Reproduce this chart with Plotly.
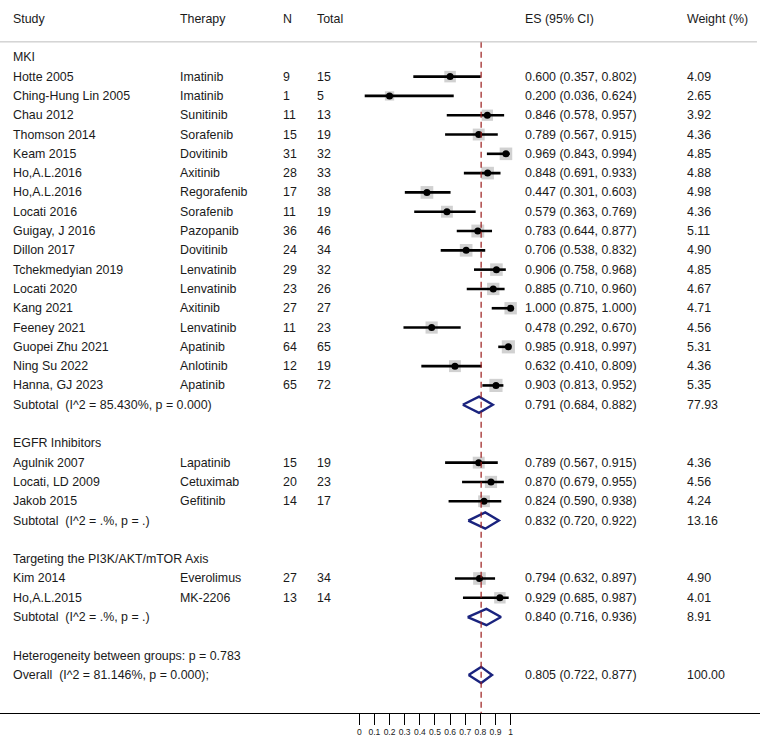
import plotly.graph_objects as go

# study-level data
studies = ["Hotte 2005", "Ching-Hung Lin 2005", "Chau 2012", "Thomson 2014", "Keam 2015",
           "Ho,A.L.2016", "Ho,A.L.2016", "Locati 2016", "Guigay, J 2016", "Dillon 2017",
           "Tchekmedyian 2019", "Locati 2020", "Kang 2021", "Feeney 2021", "Guopei Zhu 2021",
           "Ning Su 2022", "Hanna, GJ 2023",
           "Agulnik 2007", "Locati, LD 2009", "Jakob 2015",
           "Kim 2014", "Ho,A.L.2015"]
therapy = ["Imatinib", "Imatinib", "Sunitinib", "Sorafenib", "Dovitinib",
           "Axitinib", "Regorafenib", "Sorafenib", "Pazopanib", "Dovitinib",
           "Lenvatinib", "Lenvatinib", "Axitinib", "Lenvatinib", "Apatinib",
           "Anlotinib", "Apatinib",
           "Lapatinib", "Cetuximab", "Gefitinib",
           "Everolimus", "MK-2206"]
n_events = [9, 1, 11, 15, 31, 28, 17, 11, 36, 24, 29, 23, 27, 11, 64, 12, 65, 15, 20, 14, 27, 13]
n_total = [15, 5, 13, 19, 32, 33, 38, 19, 46, 34, 32, 26, 27, 23, 65, 19, 72, 19, 23, 17, 34, 14]
es = [0.600, 0.200, 0.846, 0.789, 0.969, 0.848, 0.447, 0.579, 0.783, 0.706, 0.906, 0.885,
      1.000, 0.478, 0.985, 0.632, 0.903, 0.789, 0.870, 0.824, 0.794, 0.929]
ci_low = [0.357, 0.036, 0.578, 0.567, 0.843, 0.691, 0.301, 0.363, 0.644, 0.538, 0.758, 0.710,
          0.875, 0.292, 0.918, 0.410, 0.813, 0.567, 0.679, 0.590, 0.632, 0.685]
ci_high = [0.802, 0.624, 0.957, 0.915, 0.994, 0.933, 0.603, 0.769, 0.877, 0.832, 0.968, 0.960,
           1.000, 0.670, 0.997, 0.809, 0.952, 0.915, 0.955, 0.938, 0.897, 0.987]
weight = [4.09, 2.65, 3.92, 4.36, 4.85, 4.88, 4.98, 4.36, 5.11, 4.90, 4.85, 4.67, 4.71, 4.56,
          5.31, 4.36, 5.35, 4.36, 4.56, 4.24, 4.90, 4.01]

# subgroups
groups = ["MKI", "EGFR Inhibitors", "Targeting the PI3K/AKT/mTOR Axis"]
group_sizes = [17, 3, 2]
sub_es = [0.791, 0.832, 0.840]
sub_low = [0.684, 0.720, 0.716]
sub_high = [0.882, 0.922, 0.936]
sub_weight = [77.93, 13.16, 8.91]
sub_i2 = ["85.430%", ".%", ".%"]
sub_p = ["0.000", ".", "."]

# overall
het_p = "0.783"
overall_es, overall_low, overall_high = 0.805, 0.722, 0.877
overall_i2, overall_p = "81.146%", "0.000"

tick_vals = [0, 0.1, 0.2, 0.3, 0.4, 0.5, 0.6, 0.7, 0.8, 0.9, 1]
tick_text = ["0", "0.1", "0.2", "0.3", "0.4", "0.5", "0.6", "0.7", "0.8", "0.9", "1"]

FONT = "Liberation Sans, Arial, sans-serif"
TXT = "#1a1a1a"
col_x = {"study": 0.0151, "therapy": 0.234, "n": 0.370, "total": 0.414, "es": 0.688, "w": 0.901}

annotations = []


def add_text(x, y, s):
    annotations.append(dict(x=x, y=y, xref="paper", yref="y", text=s, showarrow=False,
                            xanchor="left", yanchor="middle", font=dict(size=12.4, color=TXT, family=FONT)))


# header
for key, s in [("study", "Study"), ("therapy", "Therapy"), ("n", "N"), ("total", "Total"),
               ("es", "ES (95% CI)"), ("w", "Weight (%)")]:
    add_text(col_x[key], -2, s)

# lay out rows
study_rows = []
sub_rows = []
row = 0
k = 0
for g, size in enumerate(group_sizes):
    add_text(col_x["study"], row, groups[g])
    row += 1
    for _ in range(size):
        study_rows.append(row)
        add_text(col_x["study"], row, studies[k])
        add_text(col_x["therapy"], row, therapy[k])
        add_text(col_x["n"], row, str(n_events[k]))
        add_text(col_x["total"], row, str(n_total[k]))
        add_text(col_x["es"], row, f"{es[k]:.3f} ({ci_low[k]:.3f}, {ci_high[k]:.3f})")
        add_text(col_x["w"], row, f"{weight[k]:.2f}")
        row += 1
        k += 1
    sub_rows.append(row)
    add_text(col_x["study"], row, f"Subtotal\u00a0 (I^2 = {sub_i2[g]}, p = {sub_p[g]})")
    add_text(col_x["es"], row, f"{sub_es[g]:.3f} ({sub_low[g]:.3f}, {sub_high[g]:.3f})")
    add_text(col_x["w"], row, f"{sub_weight[g]:.2f}")
    row += 2

add_text(col_x["study"], row, f"Heterogeneity between groups: p = {het_p}")
row += 1
overall_row = row
add_text(col_x["study"], row, f"Overall\u00a0 (I^2 = {overall_i2}, p = {overall_p});")
add_text(col_x["es"], row, f"{overall_es:.3f} ({overall_low:.3f}, {overall_high:.3f})")
add_text(col_x["w"], row, "100.00")

fig = go.Figure()

# weight boxes
fig.add_trace(go.Scatter(
    x=es, y=study_rows, mode="markers",
    marker=dict(symbol="square", size=[5.7 * w ** 0.5 for w in weight], color="#bdbdbd", line=dict(width=0)),
    hoverinfo="skip", showlegend=False))

# confidence intervals
ci_x, ci_y = [], []
for lo, hi, r in zip(ci_low, ci_high, study_rows):
    ci_x += [lo, hi, None]
    ci_y += [r, r, None]
fig.add_trace(go.Scatter(x=ci_x, y=ci_y, mode="lines", line=dict(color="black", width=2.6),
                         hoverinfo="skip", showlegend=False))

# point estimates
fig.add_trace(go.Scatter(x=es, y=study_rows, mode="markers",
                         marker=dict(symbol="circle", size=7, color="black"),
                         showlegend=False))

# diamonds
d_x, d_y = [], []
h = 0.42
for e, lo, hi, r in zip(sub_es + [overall_es], sub_low + [overall_low],
                        sub_high + [overall_high], sub_rows + [overall_row]):
    d_x += [lo, e, hi, e, lo, None]
    d_y += [r, r - h, r, r + h, r, None]
fig.add_trace(go.Scatter(x=d_x, y=d_y, mode="lines", line=dict(color="#1a237e", width=2.4),
                         hoverinfo="skip", showlegend=False))

y_bottom = 33.97
fig.add_shape(type="line", xref="x", yref="y", x0=overall_es, x1=overall_es, y0=-0.8, y1=y_bottom,
              line=dict(color="#9b1c1c", width=1.2, dash="6px,4px"))
fig.add_shape(type="line", xref="paper", yref="y", x0=0, x1=0.996, y0=-0.8, y1=-0.8,
              line=dict(color="#bdbdbd", width=1))

fig.update_layout(
    width=760, height=746,
    margin=dict(l=0, r=0, t=0, b=33),
    plot_bgcolor="white", paper_bgcolor="white",
    annotations=annotations,
    showlegend=False,
    xaxis=dict(range=[-2.373, 2.647], tickmode="array", tickvals=tick_vals, ticktext=tick_text,
               ticks="outside", ticklen=11, tickwidth=1, tickcolor="black",
               showline=True, linecolor="black", linewidth=1,
               showgrid=False, zeroline=False,
               tickfont=dict(size=8.5, color=TXT, family=FONT)),
    yaxis=dict(range=[y_bottom, -2.969], visible=False, showgrid=False, zeroline=False),
)

# drop the default page margin so the figure fills the window
fig.write_html("out.html", config={"displayModeBar": False},
               post_script="document.body.style.margin='0';")
